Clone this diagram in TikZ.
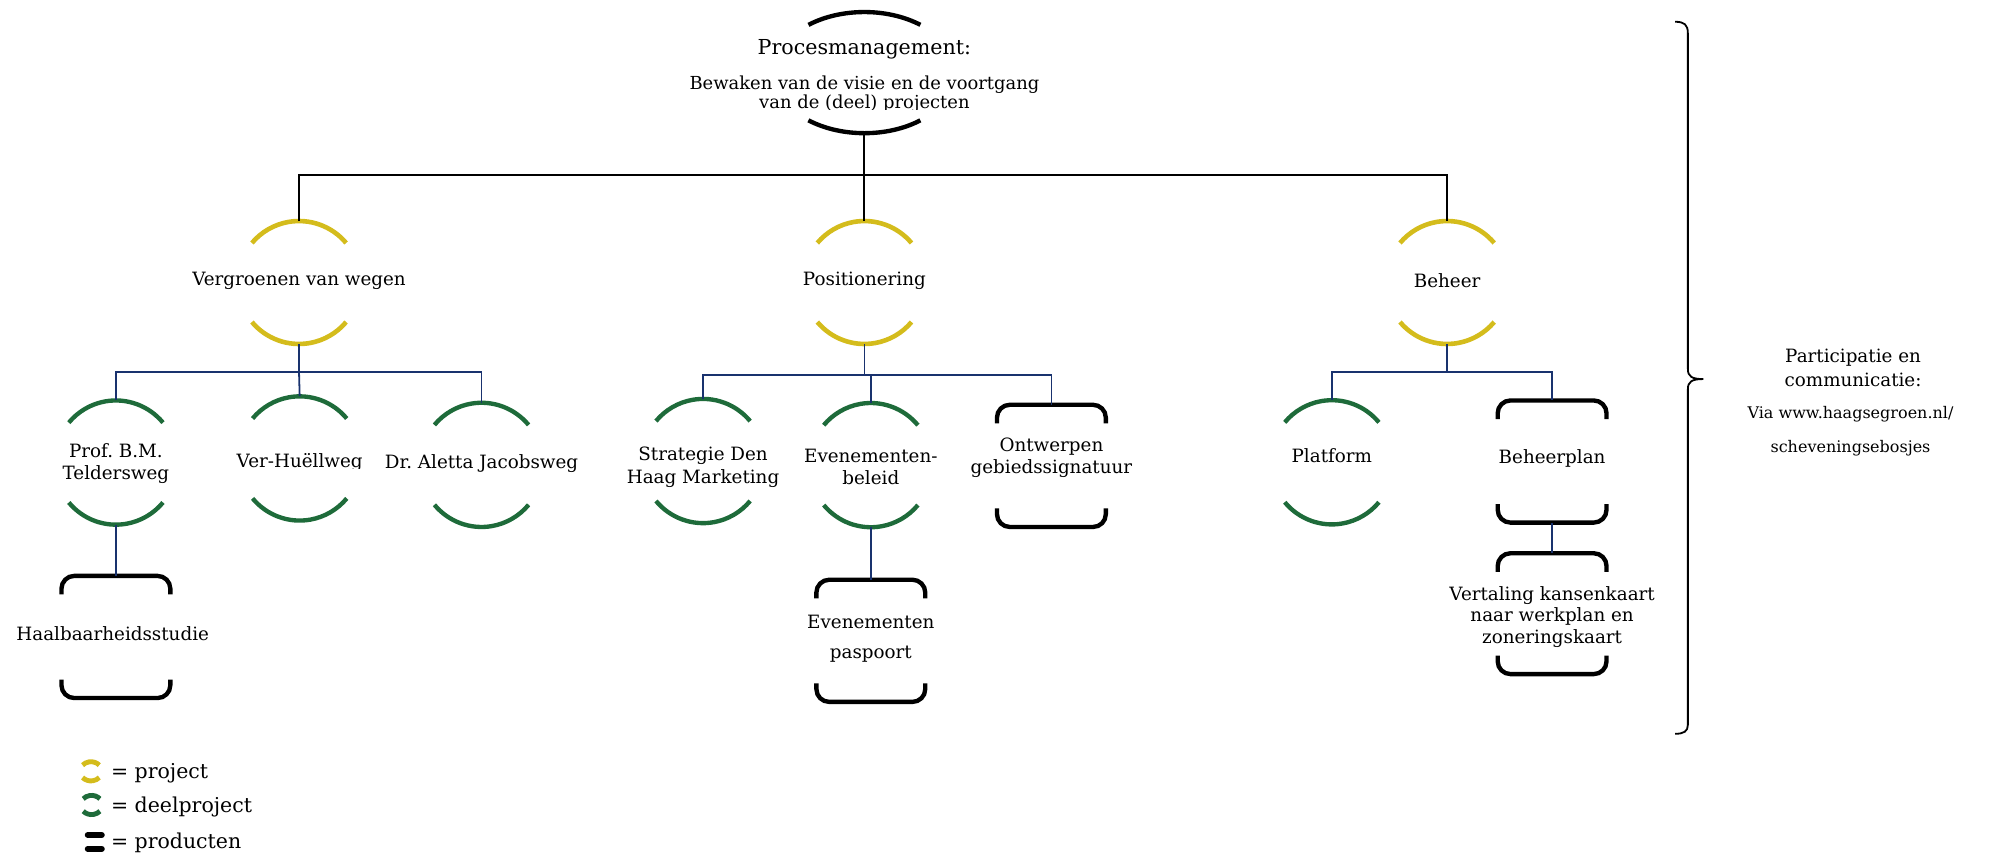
\documentclass[tikz,border=0pt]{standalone}
\usepackage{fontspec}
\setmainfont{DejaVu Serif}
\frenchspacing
\definecolor{projy}{RGB}{212,188,28}
\definecolor{projg}{RGB}{30,107,58}
\definecolor{navy}{RGB}{25,50,110}
\newcommand\myfs[2]{\fontsize{#1}{#2}\selectfont}
% #1 node, #2 x radius, #3 y radius, #4 style, #5 start angle
\newcommand\arcpair[5]{%
  \draw[#4] ([shift={(#5:#2pt and #3pt)}]#1.center) arc[start angle=#5,end angle={180-#5},x radius=#2pt,y radius=#3pt];
  \draw[#4] ([shift={({180+#5}:#2pt and #3pt)}]#1.center) arc[start angle={180+#5},end angle={360-#5},x radius=#2pt,y radius=#3pt];}
% #1 node, #2 half width, #3 side length, #4 corner radius, #5 style
\newcommand\bracketbox[5]{%
  \draw[#5,rounded corners=#4pt] ([shift={(-#2pt,-#3pt)}]#1.north) |- ([shift={(#2pt,0pt)}]#1.north) -- ([shift={(#2pt,-#3pt)}]#1.north);
  \draw[#5,rounded corners=#4pt] ([shift={(-#2pt,#3pt)}]#1.south) |- ([shift={(#2pt,0pt)}]#1.south) -- ([shift={(#2pt,#3pt)}]#1.south);}
\begin{document}
\begin{tikzpicture}[x=1pt,y=1pt,
  txt/.style={inner sep=0pt,align=center,font=\myfs{14.3}{17.5}},
  holder/.style={inner sep=0pt,minimum width=96pt,minimum height=97pt},
  prodholder/.style={inner sep=0pt,minimum width=85pt,minimum height=95pt},
  yarc/.style={draw=projy,line width=3.6pt},
  garc/.style={draw=projg,line width=3.4pt},
  karc/.style={draw=black,line width=3.4pt},
  blk/.style={draw=black,line width=1.5pt},
  blu/.style={draw=navy,line width=1.4pt},
  lgbar/.style={draw=black,line width=4.6pt,line cap=round}]
\useasboundingbox (0,0) rectangle (1568,-669);

% ---------- process management ----------
\node[holder,minimum width=142pt,minimum height=94.6pt] (pm) at (675,-56.7) {};
\arcpair{pm}{71}{47.3}{karc}{52}
\node[txt,font=\myfs{16.1}{19}] (pmt) at (675,-38.4) {Procesmanagement:};
\begin{scope}
  \clip (480,-55) rectangle (870,-85.8);
  \node[txt,font=\myfs{14}{14.8}] (pms) at (675,-73.5) {Bewaken van de visie en de voortgang\\van de (deel) projecten};
\end{scope}

% ---------- projects ----------
\node[holder,minimum height=96pt] (vw) at (233.5,-220.6) {};
\node[txt] (vwt) at (233.5,-219.3) {Vergroenen van wegen};
\arcpair{vw}{48}{48}{yarc}{40}
\node[holder,minimum height=96pt] (po) at (675,-220.6) {};
\node[txt] (pot) at (675,-219.3) {Positionering};
\arcpair{po}{48}{48}{yarc}{40}
\node[holder,minimum height=96pt] (be) at (1130,-220.6) {};
\node[txt] (bet) at (1130,-219.3) {Beheer};
\arcpair{be}{48}{48}{yarc}{40}

% ---------- sub projects ----------
\node[holder] (prof) at (90.5,-361.2) {};
\node[txt] (proft) at (90.5,-362.2) {Prof. B.M.\\Teldersweg};
\arcpair{prof}{48}{48.5}{garc}{40}
\node[holder] (vh) at (234,-358) {};
\begin{scope}
  \clip (150,-340) rectangle (320,-366);
  \node[txt] (vht) at (234,-360.8) {Ver-Hu\"ellweg};
\end{scope}
\arcpair{vh}{48}{48.5}{garc}{40}
\node[holder] (da) at (376,-363) {};
\node[txt] (dat) at (376,-362) {Dr. Aletta Jacobsweg};
\arcpair{da}{48}{48.5}{garc}{40}

\node[holder] (st) at (549,-360) {};
\node[txt] (stt) at (549,-364.8) {Strategie Den\\Haag Marketing};
\arcpair{st}{48}{48.5}{garc}{40}
\node[holder] (eb) at (680,-363.2) {};
\node[txt] (ebt) at (680,-364.7) {Evenementen-\\beleid};
\arcpair{eb}{48}{48.5}{garc}{40}
\node[prodholder] (on) at (821,-363.8) {};
\node[txt] (ont) at (821,-357.5) {Ontwerpen\\gebiedssignatuur};
\bracketbox{on}{42.5}{14.5}{10}{karc}

\node[holder] (pf) at (1040,-361) {};
\node[txt] (pft) at (1040,-356) {Platform};
\arcpair{pf}{48}{48.5}{garc}{40}
\node[prodholder] (bp) at (1212,-360.4) {};
\node[txt] (bpt) at (1212,-358) {Beheerplan};
\bracketbox{bp}{42.5}{14.5}{10}{karc}

% ---------- products ----------
\node[prodholder] (hb) at (90.5,-497.4) {};
\node[txt] (hbt) at (88,-495.2) {Haalbaarheidsstudie};
\bracketbox{hb}{42.5}{14.5}{10}{karc}
\node[prodholder] (ep) at (680,-500.4) {};
\node[txt,font=\myfs{14.3}{23.5}] (ept) at (680,-498.5) {Evenementen\\paspoort};
\bracketbox{ep}{42.5}{14.5}{10}{karc}
\node[prodholder,minimum height=94pt] (vt) at (1212,-479.2) {};
\node[txt,font=\myfs{14.3}{17}] (vtt) at (1212,-481.7) {Vertaling kansenkaart\\naar werkplan en\\zoneringskaart};
\bracketbox{vt}{42.5}{14.5}{10}{karc}

% ---------- connectors ----------
\coordinate (bus0) at (675,-136.7);
\draw[blk] (pm.south) -- (bus0);
\draw[blk] (vw.north) |- (bus0) -| (be.north);
\draw[blk] (bus0) -- (po.north);

\coordinate (bus1) at (233.5,-290.5);
\draw[blu] (vw.south) -- (bus1);
\draw[blu] (prof.north) |- (bus1) -| (da.north);
\draw[blu] (bus1) -- (vh.north);

\coordinate (bus2) at (675,-292.8);
\draw[blu] (po.south) -- (bus2);
\draw[blu] (st.north) |- (bus2) -| (on.north);
\draw[blu] (eb.north) -- (eb.north |- bus2);

\coordinate (bus3) at (1130,-290.5);
\draw[blu] (be.south) -- (bus3);
\draw[blu] (pf.north) |- (bus3) -| (bp.north);

\draw[blu] (prof.south) -- (hb.north);
\draw[blu] (eb.south) -- (ep.north);
\draw[blu] (bp.south) -- (vt.north);

% ---------- brace and participation ----------
\coordinate (bracetip) at (1330,-296);
\draw[line width=1.4pt] (1308,-17) .. controls (1315,-17) and (1318,-19) .. (1318,-26) -- (1318,-288)
  .. controls (1318,-294) and (1321,-296) .. (bracetip)
  .. controls (1321,-296) and (1318,-298) .. (1318,-304) -- (1318,-566)
  .. controls (1318,-571) and (1315,-573) .. (1308,-573);
\node[txt,font=\myfs{14.3}{19}] (part) at (1447,-287.3) {Participatie en\\communicatie:};
\node[txt,font=\myfs{12.5}{27}] (via) at (1445,-336.8) {Via www.haagsegroen.nl/\\scheveningsebosjes};

% ---------- legend ----------
\node[inner sep=0pt,minimum width=17pt,minimum height=15pt] (lgy) at (71,-602.3) {};
\arcpair{lgy}{8.5}{7.5}{yarc,line width=3.8pt}{40}
\node[txt,anchor=base west,font=\myfs{16}{18}] (lgyt) at (86.5,-607.8) {= project};
\node[inner sep=0pt,minimum width=17pt,minimum height=15pt] (lgg) at (71.5,-628.6) {};
\arcpair{lgg}{8.5}{7.5}{garc,line width=3.8pt}{40}
\node[txt,anchor=base west,font=\myfs{16}{18}] (lggt) at (86.5,-634.6) {= deelproject};
\node[inner sep=0pt,minimum width=14pt,minimum height=12pt] (lgb) at (74,-656.8) {};
\draw[lgbar] ([shift={(-5.5pt,4.8pt)}]lgb.center) -- ([shift={(5.5pt,4.8pt)}]lgb.center);
\draw[lgbar] ([shift={(-5.5pt,-6pt)}]lgb.center) -- ([shift={(5.5pt,-6pt)}]lgb.center);
\node[txt,anchor=base west,font=\myfs{16}{18}] (lgbt) at (86.5,-662.4) {= producten};
\end{tikzpicture}
\end{document}
